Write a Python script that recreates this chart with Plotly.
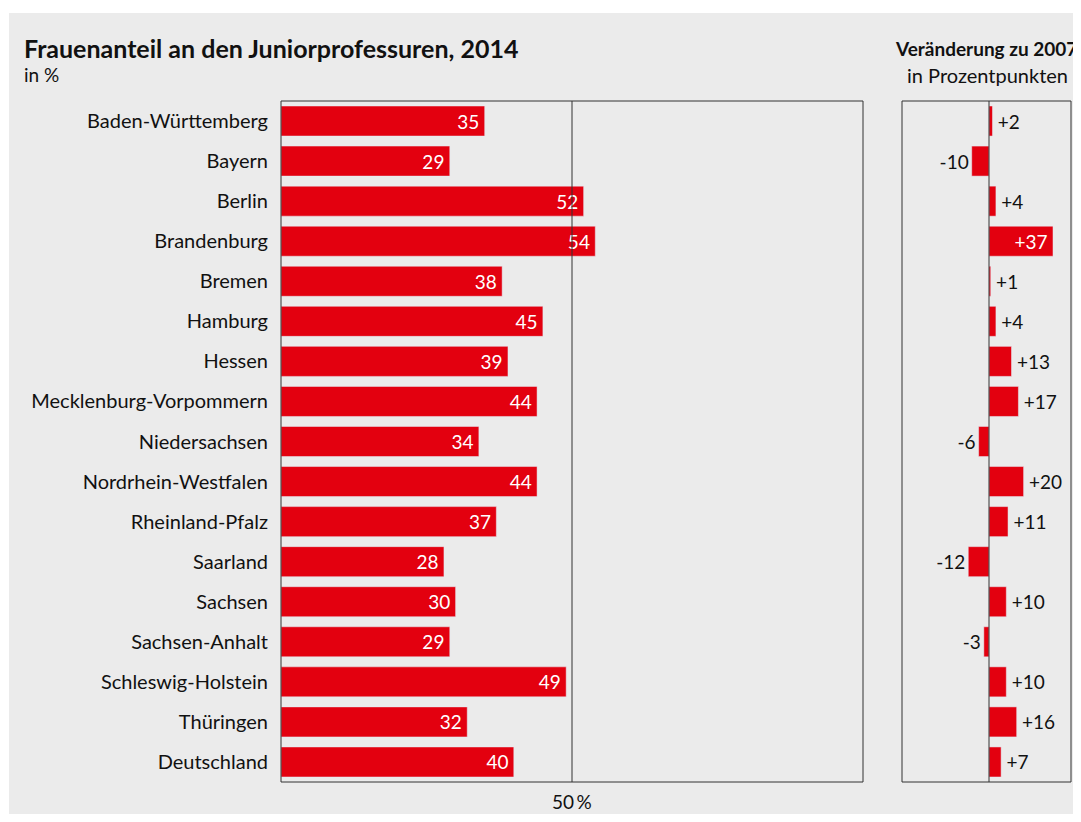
import plotly.graph_objects as go

laender = ["Baden-Württemberg", "Bayern", "Berlin", "Brandenburg", "Bremen", "Hamburg",
           "Hessen", "Mecklenburg-Vorpommern", "Niedersachsen", "Nordrhein-Westfalen",
           "Rheinland-Pfalz", "Saarland", "Sachsen", "Sachsen-Anhalt", "Schleswig-Holstein",
           "Thüringen", "Deutschland"]
anteil_2014 = [35, 29, 52, 54, 38, 45, 39, 44, 34, 44, 37, 28, 30, 29, 49, 32, 40]
veraenderung_2007 = [2, -10, 4, 37, 1, 4, 13, 17, -6, 20, 11, -12, 10, -3, 10, 16, 7]

OFF = 8  # page margin added by the browser
W, H = 1081 - OFF, 822 - 2 * OFF
RED = "#e3000f"
BG = "#ebebeb"
FONT = "Lato"

def px(x):
    return (x - OFF) / W

def py(y):
    return 1 - (y - OFF) / H

# labels that do not fit outside go inside the bar
pos2 = ["inside" if v > 30 else "outside" for v in veraenderung_2007]
col2 = ["white" if p == "inside" else "#111111" for p in pos2]
txt2 = []
for v, p in zip(veraenderung_2007, pos2):
    s = f"{v:+d}"
    if p == "inside":
        s = s + "\u2009"
    elif v > 0:
        s = "\u2009" + s
    txt2.append(s)

fig = go.Figure()
fig.add_trace(go.Bar(
    x=anteil_2014, y=laender, orientation="h", marker_color=RED, width=0.75,
    text=[f"{v}\u2009" for v in anteil_2014], textposition="inside", insidetextanchor="end",
    textfont=dict(color="white", size=19, family=FONT), constraintext="none",
    xaxis="x", yaxis="y", showlegend=False, hoverinfo="skip"))
fig.add_trace(go.Bar(
    x=veraenderung_2007, y=laender, orientation="h", marker_color=RED, width=0.75,
    text=txt2, textposition=pos2, insidetextanchor="end",
    textfont=dict(color=col2, size=19, family=FONT), cliponaxis=False, constraintext="none",
    xaxis="x2", yaxis="y2", showlegend=False, hoverinfo="skip"))

plain = dict(showline=False, showgrid=False, zeroline=False, ticks="")
ydom = [py(782), py(101)]
frame_line = dict(color="#333333", width=1)
fig.update_layout(
    width=W, height=H, margin=dict(l=0, r=0, t=0, b=0),
    paper_bgcolor=BG, plot_bgcolor=BG,
    font=dict(family=FONT, color="#111111", size=20),
    xaxis=dict(domain=[px(281), px(863)], range=[0, 100], showticklabels=False, **plain),
    yaxis=dict(domain=ydom, autorange="reversed", ticklabelstandoff=12,
               tickfont=dict(size=20, family=FONT, color="#111111"), **plain),
    xaxis2=dict(domain=[px(902), px(1071)], range=[-50.3, 47.4], showticklabels=False,
                anchor="y2", **plain),
    yaxis2=dict(domain=ydom, autorange="reversed", showticklabels=False,
                anchor="x2", **plain),
    shapes=[
        dict(type="rect", xref="paper", yref="paper", x0=-0.01, x1=px(9), y0=-0.01, y1=1.01,
             fillcolor="white", line_width=0, layer="below"),
        dict(type="rect", xref="paper", yref="paper", x0=-0.01, x1=1.01, y0=py(13), y1=1.01,
             fillcolor="white", line_width=0, layer="below"),
        dict(type="rect", xref="x domain", yref="y domain", x0=0, x1=1, y0=0, y1=1,
             line=frame_line, layer="above"),
        dict(type="rect", xref="x2 domain", yref="y2 domain", x0=0, x1=1, y0=0, y1=1,
             line=frame_line, layer="above"),
        dict(type="line", xref="x", yref="y domain", x0=50, x1=50, y0=0, y1=1,
             line=frame_line),
        dict(type="line", xref="x2", yref="y2 domain", x0=0, x1=0, y0=0, y1=1,
             line=frame_line),
    ],
    annotations=[
        dict(text="<b>Frauenanteil an den Juniorprofessuren, 2014</b>", xref="paper", yref="paper",
             x=px(22), y=py(48), xanchor="left", yanchor="middle", showarrow=False,
             font=dict(size=25, family=FONT)),
        dict(text="in %", xref="paper", yref="paper", x=px(22), y=py(74), xanchor="left",
             yanchor="middle", showarrow=False, font=dict(size=19, family=FONT)),
        dict(text="<b>Veränderung zu 2007</b>", xref="paper", yref="paper", x=px(986), y=py(48),
             xanchor="center", yanchor="middle", showarrow=False, font=dict(size=19, family=FONT)),
        dict(text="in Prozentpunkten", xref="paper", yref="paper", x=px(987), y=py(75),
             xanchor="center", yanchor="middle", showarrow=False, font=dict(size=20, family=FONT)),
        dict(text="50\u2009%", xref="x", yref="paper", x=50, y=py(801), xanchor="center",
             yanchor="middle", showarrow=False, font=dict(size=19, family=FONT)),
    ],
)
fig.write_html("out.html")
